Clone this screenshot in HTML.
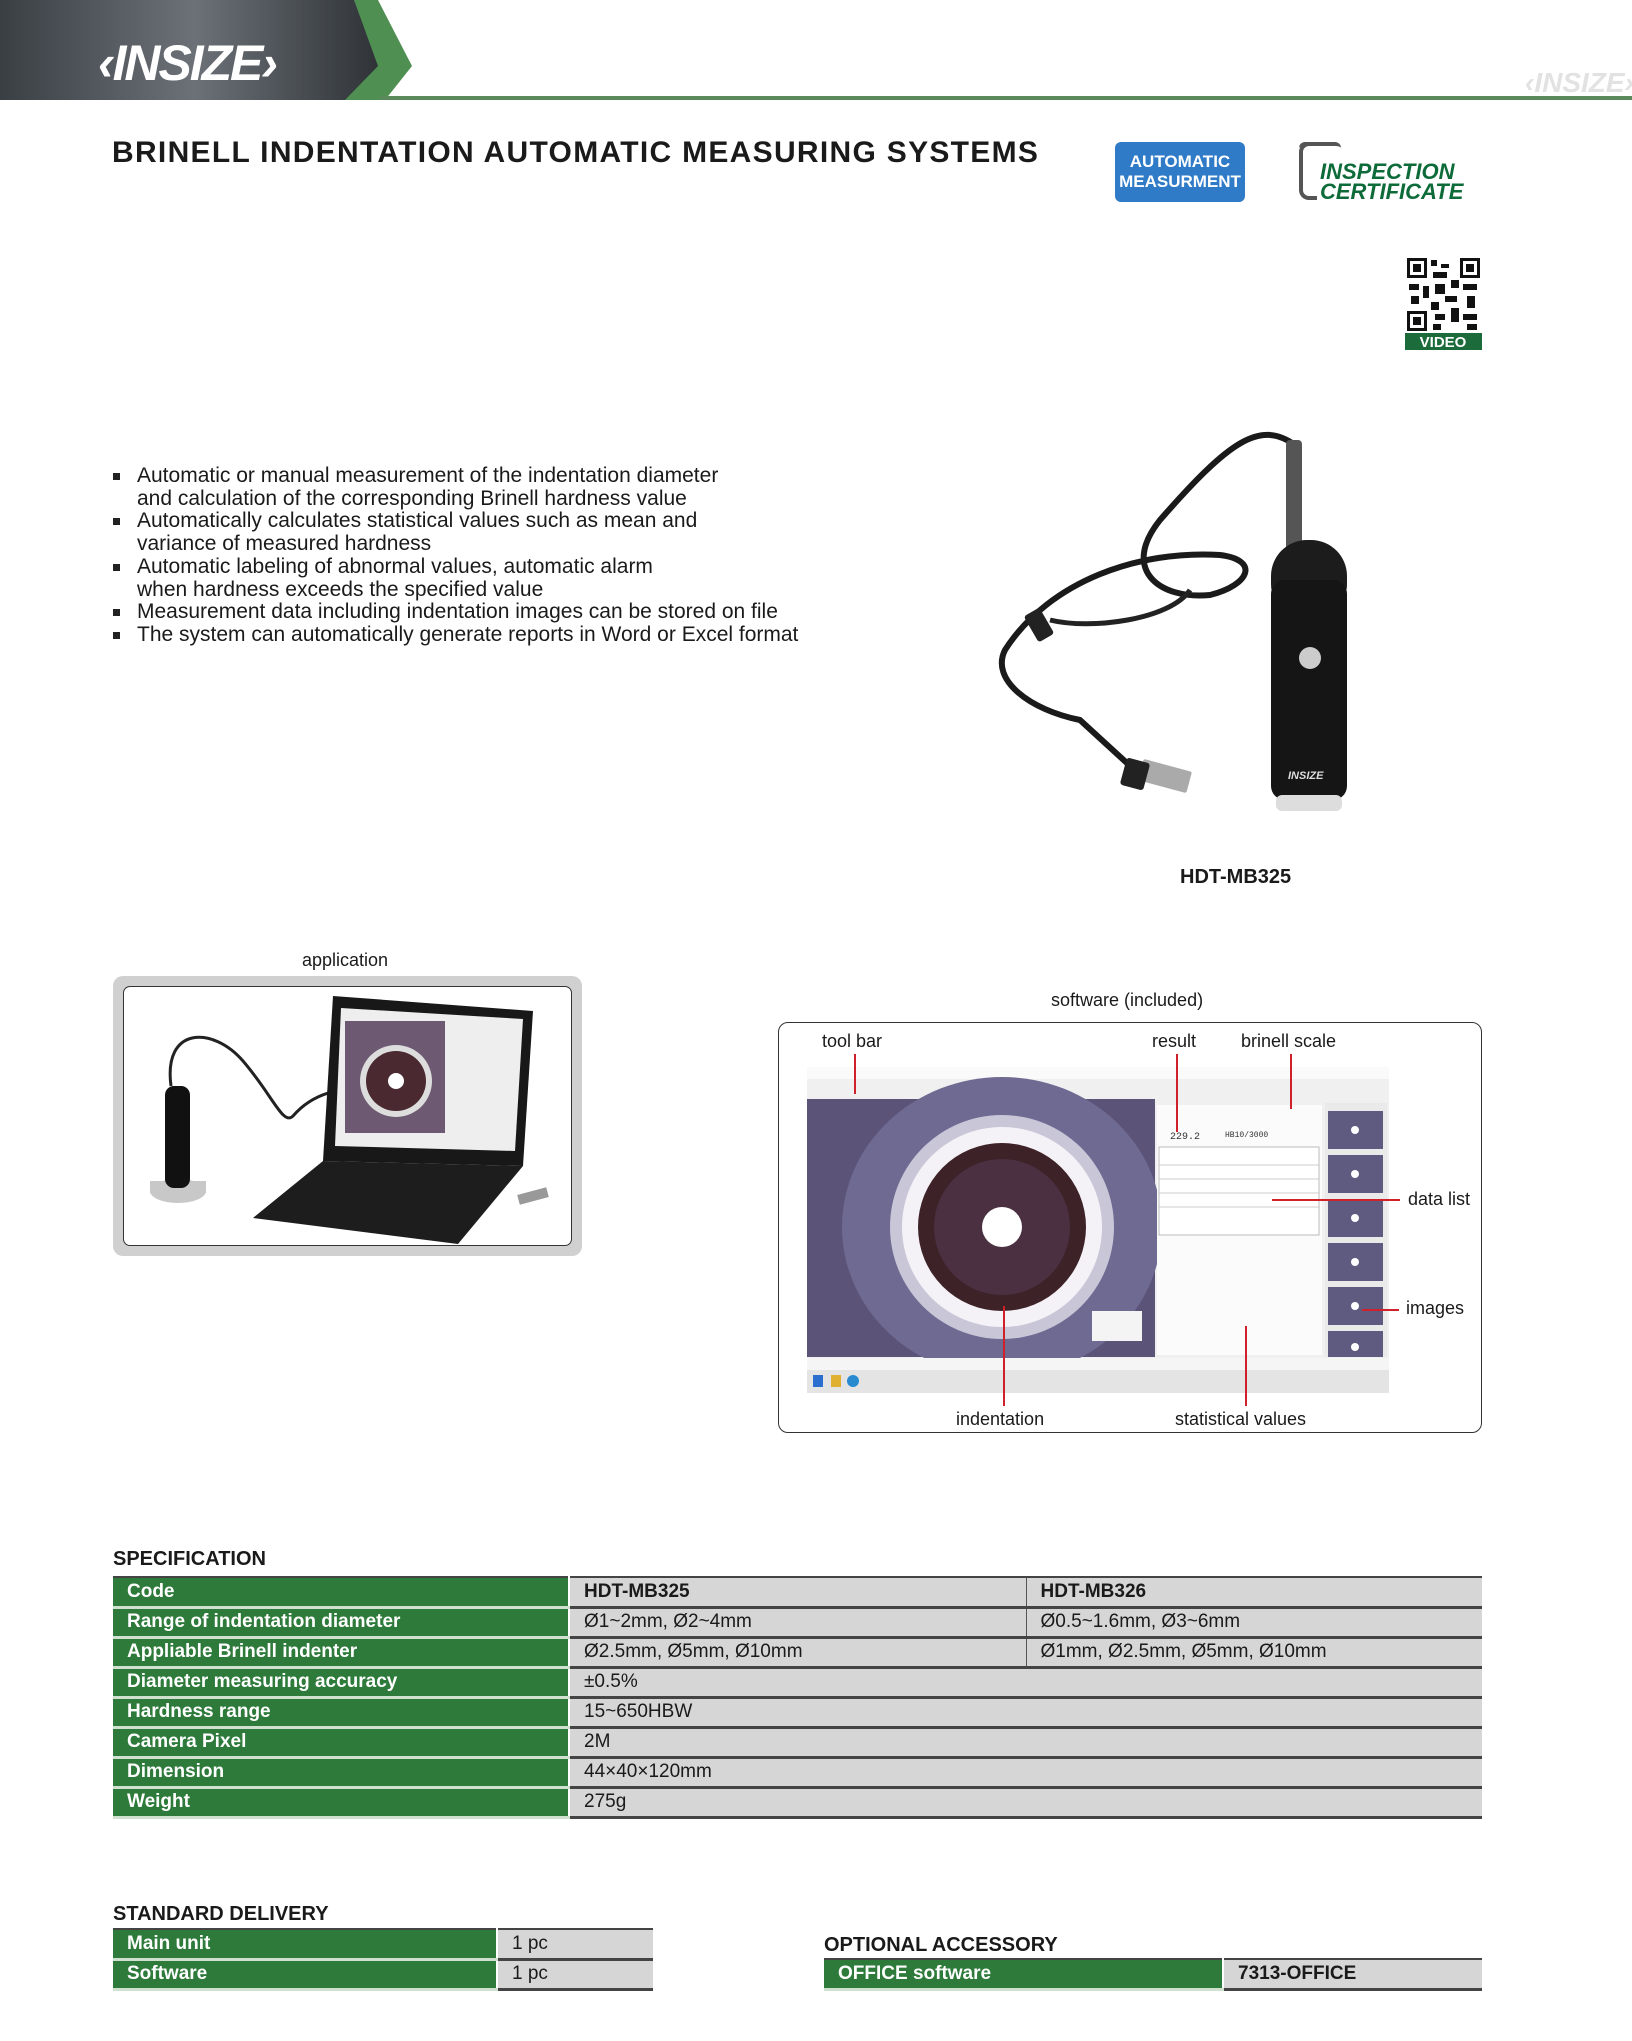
<!DOCTYPE html>
<html><head><meta charset="utf-8"><style>
*{margin:0;padding:0;box-sizing:border-box}
body{width:1632px;height:2041px;position:relative;background:#fff;font-family:"Liberation Sans",Arial,sans-serif;color:#1a1a1a;overflow:hidden}
.a{position:absolute}
.t{position:absolute;white-space:nowrap}
table{border-collapse:collapse;position:absolute;font-size:19px}
td{height:30px;padding:0 14px;border-bottom:3px solid #444;}
td.g{background:#2d7a3a;color:#fff;font-weight:bold;border-right:2px solid #fff;border-bottom:3px solid #cfe0cf}
td.v{background:#d6d6d6;border-left:1px solid #555}
.bl{position:absolute;left:113px;font-size:21px;line-height:22.7px}
.bl div{position:relative;padding-left:24px}
.bl div.s:before{content:"";position:absolute;left:0;top:8px;width:7px;height:7px;background:#222}
.lbl{position:absolute;font-size:18px;white-space:nowrap}
.r{position:absolute;background:#d0202a}
</style></head><body>
<!-- header -->
<svg class="a" style="left:0;top:0" width="1632" height="101">
<defs><linearGradient id="hg" x1="0" x2="1"><stop offset="0" stop-color="#3a3f44"/><stop offset=".5" stop-color="#6b7177"/><stop offset="1" stop-color="#2c3034"/></linearGradient></defs>
<polygon points="0,0 354,0 388,66 354,100 0,100" fill="url(#hg)"/>
<polygon points="354,0 378,0 412,66 385,100 345,100 378,66" fill="#4f8f52"/>
<rect x="380" y="96" width="1252" height="4" fill="#5a8a5c"/>
<text x="98" y="80" font-family="Liberation Sans" font-weight="bold" font-style="italic" font-size="50" fill="#fff" textLength="180">‹INSIZE›</text>
<text x="1525" y="92" font-family="Liberation Sans" font-weight="bold" font-style="italic" font-size="28" fill="#e2e2e2">‹INSIZE›</text>
</svg>
<div class="t" style="left:112px;top:136px;font-size:30px;font-weight:bold;letter-spacing:1.3px">BRINELL INDENTATION AUTOMATIC MEASURING SYSTEMS</div>
<div class="a" style="left:1115px;top:142px;width:130px;height:60px;background:#2f7bc8;border-radius:6px;color:#fff;font-weight:bold;font-size:17px;text-align:center;line-height:20px;padding-top:10px">AUTOMATIC<br>MEASURMENT</div>
<div class="a" style="left:1299px;top:142px;width:18px;height:58px;border:4px solid #555;border-right:none;border-radius:10px 0 0 10px"></div>
<div class="a" style="left:1299px;top:142px;width:42px;height:6px;border-top:4px solid #555;border-radius:10px 10px 0 0"></div>
<div class="t" style="left:1320px;top:162px;color:#0d6b3a;font-weight:bold;font-style:italic;font-size:22px;line-height:20px">INSPECTION<br>CERTIFICATE</div>
<!-- QR -->
<svg class="a" style="left:1405px;top:256px" width="77" height="94">
<rect width="77" height="77" fill="#fff"/>
<g fill="#111">
<rect x="2" y="2" width="20" height="20"/><rect x="55" y="2" width="20" height="20"/><rect x="2" y="55" width="20" height="20"/>
<rect x="26" y="4" width="6" height="6"/><rect x="36" y="8" width="8" height="4"/><rect x="28" y="16" width="14" height="6"/><rect x="46" y="24" width="8" height="8"/>
<rect x="4" y="28" width="10" height="6"/><rect x="18" y="30" width="6" height="12"/><rect x="30" y="28" width="10" height="10"/><rect x="58" y="28" width="14" height="6"/>
<rect x="6" y="40" width="8" height="8"/><rect x="40" y="40" width="12" height="6"/><rect x="62" y="40" width="8" height="12"/><rect x="26" y="46" width="8" height="8"/>
<rect x="30" y="58" width="10" height="6"/><rect x="46" y="52" width="8" height="14"/><rect x="58" y="58" width="14" height="6"/><rect x="28" y="68" width="8" height="6"/><rect x="62" y="68" width="10" height="6"/>
</g>
<g fill="#fff"><rect x="5" y="5" width="14" height="14"/><rect x="58" y="5" width="14" height="14"/><rect x="5" y="58" width="14" height="14"/></g>
<g fill="#111"><rect x="8" y="8" width="8" height="8"/><rect x="61" y="8" width="8" height="8"/><rect x="8" y="61" width="8" height="8"/></g>
<rect x="0" y="77" width="77" height="17" fill="#1c6b3a"/>
<text x="38" y="91" text-anchor="middle" font-family="Liberation Sans" font-weight="bold" font-size="15" fill="#fff">VIDEO</text>
</svg>
<!-- bullets -->
<div class="bl" style="top:465px">
<div class="s">Automatic or manual measurement of the indentation diameter</div>
<div>and calculation of the corresponding Brinell hardness value</div>
<div class="s">Automatically calculates statistical values such as mean and</div>
<div>variance of measured hardness</div>
<div class="s">Automatic labeling of abnormal values, automatic alarm</div>
<div>when hardness exceeds the specified value</div>
<div class="s">Measurement data including indentation images can be stored on file</div>
<div class="s">The system can automatically generate reports in Word or Excel format</div>
</div>
<!-- product -->
<svg class="a" style="left:990px;top:420px" width="380" height="400">
<path d="M305,25 C270,0 240,20 170,100 C130,150 170,180 220,175 C260,165 270,140 230,135 C150,130 60,160 15,230 C0,260 40,290 90,300 L150,355" stroke="#1a1a1a" stroke-width="6" fill="none"/>
<path d="M200,170 C180,200 100,210 60,200" stroke="#222" stroke-width="5" fill="none"/>
<rect x="40" y="190" width="18" height="30" rx="3" fill="#222" transform="rotate(-30 49 205)"/>
<rect x="150" y="345" width="50" height="22" rx="2" fill="#aaa" transform="rotate(15 175 356)"/>
<rect x="133" y="340" width="24" height="28" rx="3" fill="#222" transform="rotate(15 145 354)"/>
<rect x="296" y="20" width="16" height="110" rx="4" fill="#555"/>
<rect x="281" y="120" width="76" height="80" rx="36" fill="#1c1c1c"/>
<rect x="281" y="160" width="76" height="220" rx="14" fill="#151515"/>
<rect x="286" y="375" width="66" height="16" rx="6" fill="#ddd"/>
<circle cx="320" cy="238" r="11" fill="#ccc"/>
<text x="298" y="359" font-family="Liberation Sans" font-size="11" font-style="italic" font-weight="bold" fill="#ddd">INSIZE</text>
</svg>
<div class="t" style="left:1180px;top:866px;font-size:20px;font-weight:bold">HDT-MB325</div>
<!-- application -->
<div class="t" style="left:302px;top:950px;font-size:18px">application</div>
<div class="a" style="left:113px;top:976px;width:469px;height:280px;background:#d0d0d0;border-radius:10px"></div>
<div class="a" style="left:123px;top:986px;width:449px;height:260px;background:#fff;border:1.5px solid #333;border-radius:7px"></div>
<svg class="a" style="left:123px;top:986px" width="449" height="260">
<path d="M48,100 C40,40 90,40 120,75 C150,110 160,140 170,130 C200,95 240,105 290,95" stroke="#222" stroke-width="3" fill="none"/>
<ellipse cx="55" cy="205" rx="28" ry="12" fill="#c8c8c8"/>
<rect x="27" y="195" width="56" height="12" fill="#c8c8c8"/>
<rect x="42" y="100" width="25" height="102" rx="9" fill="#111"/>
<polygon points="210,10 410,25 400,180 200,175" fill="#181818"/>
<polygon points="218,22 400,33 392,165 212,160" fill="#eee"/>
<rect x="222" y="35" width="100" height="112" fill="#6d5a72"/>
<circle cx="273" cy="95" r="36" fill="#ddd"/><circle cx="273" cy="95" r="30" fill="#4a2a30"/><circle cx="273" cy="95" r="8" fill="#fff"/>
<polygon points="200,175 400,180 335,258 130,232" fill="#1d1d1d"/>
<rect x="395" y="205" width="30" height="10" fill="#999" transform="rotate(-15 410 210)"/>
</svg>
<!-- software -->
<div class="t" style="left:1051px;top:990px;font-size:18px">software (included)</div>
<div class="a" style="left:778px;top:1022px;width:704px;height:411px;border:1.5px solid #333;border-radius:10px"></div>
<svg class="a" style="left:807px;top:1067px" width="582" height="326">
<rect width="582" height="326" fill="#f0f0f0"/>
<rect y="0" width="582" height="12" fill="#fafafa"/>
<rect x="0" y="32" width="348" height="258" fill="#5c5478"/>
<ellipse cx="195" cy="160" rx="160" ry="150" fill="#6f6a92"/>
<circle cx="195" cy="160" r="112" fill="#c9c6d8"/>
<circle cx="195" cy="160" r="100" fill="#f4f2f6"/>
<circle cx="195" cy="160" r="84" fill="#3d2228"/>
<circle cx="195" cy="160" r="68" fill="#4a3040"/>
<circle cx="195" cy="160" r="20" fill="#fff"/>
<rect x="285" y="244" width="50" height="30" fill="#f4f4f4"/>
<rect x="350" y="38" width="165" height="250" fill="#fbfbfb"/>
<rect x="352" y="80" width="160" height="88" fill="#fff" stroke="#bbb"/>
<g stroke="#ccc"><line x1="352" y1="98" x2="512" y2="98"/><line x1="352" y1="112" x2="512" y2="112"/><line x1="352" y1="126" x2="512" y2="126"/><line x1="352" y1="140" x2="512" y2="140"/></g>
<text x="363" y="72" font-family="Liberation Mono" font-size="10" fill="#333">229.2</text>
<text x="418" y="70" font-family="Liberation Mono" font-size="8" fill="#333">HB10/3000</text>
<g fill="#555" transform="translate(518,36)">
<rect width="62" height="254" fill="#eaeaea"/>
<g fill="#5e5a80"><rect x="3" y="8" width="55" height="38"/><rect x="3" y="52" width="55" height="38"/><rect x="3" y="96" width="55" height="38"/><rect x="3" y="140" width="55" height="38"/><rect x="3" y="184" width="55" height="38"/><rect x="3" y="228" width="55" height="26"/></g>
<g fill="#fff"><circle cx="30" cy="27" r="4"/><circle cx="30" cy="71" r="4"/><circle cx="30" cy="115" r="4"/><circle cx="30" cy="159" r="4"/><circle cx="30" cy="203" r="4"/><circle cx="30" cy="244" r="4"/></g>
</g>
<rect y="291" width="582" height="12" fill="#f5f5f5"/>
<rect y="303" width="582" height="23" fill="#e4e4e4"/>
<rect x="6" y="308" width="10" height="12" fill="#2a6ed0"/><rect x="24" y="308" width="10" height="12" fill="#e0b030"/><circle cx="46" cy="314" r="6" fill="#2a8ad0"/>
</svg>
<div class="lbl" style="left:822px;top:1031px">tool bar</div>
<div class="lbl" style="left:1152px;top:1031px">result</div>
<div class="lbl" style="left:1241px;top:1031px">brinell scale</div>
<div class="lbl" style="left:1408px;top:1189px">data list</div>
<div class="lbl" style="left:1406px;top:1298px">images</div>
<div class="lbl" style="left:956px;top:1409px">indentation</div>
<div class="lbl" style="left:1175px;top:1409px">statistical values</div>
<div class="r" style="left:854px;top:1054px;width:1.5px;height:40px"></div>
<div class="r" style="left:1176px;top:1054px;width:1.5px;height:78px"></div>
<div class="r" style="left:1290px;top:1054px;width:1.5px;height:55px"></div>
<div class="r" style="left:1272px;top:1199px;width:128px;height:1.5px"></div>
<div class="r" style="left:1362px;top:1309px;width:37px;height:1.5px"></div>
<div class="r" style="left:1003px;top:1306px;width:1.5px;height:100px"></div>
<div class="r" style="left:1245px;top:1326px;width:1.5px;height:80px"></div>
<!-- spec -->
<div class="t" style="left:113px;top:1548px;font-size:20px;font-weight:bold">SPECIFICATION</div>
<table style="left:113px;top:1576px;width:1369px;border-top:2px solid #444">
<tr><td class="g" style="width:456px">Code</td><td class="v" style="width:457px;font-weight:bold">HDT-MB325</td><td class="v" style="font-weight:bold">HDT-MB326</td></tr>
<tr><td class="g">Range of indentation diameter</td><td class="v">Ø1~2mm, Ø2~4mm</td><td class="v">Ø0.5~1.6mm, Ø3~6mm</td></tr>
<tr><td class="g">Appliable Brinell indenter</td><td class="v">Ø2.5mm, Ø5mm, Ø10mm</td><td class="v">Ø1mm, Ø2.5mm, Ø5mm, Ø10mm</td></tr>
<tr><td class="g">Diameter measuring accuracy</td><td class="v" colspan="2">±0.5%</td></tr>
<tr><td class="g">Hardness range</td><td class="v" colspan="2">15~650HBW</td></tr>
<tr><td class="g">Camera Pixel</td><td class="v" colspan="2">2M</td></tr>
<tr><td class="g">Dimension</td><td class="v" colspan="2">44×40×120mm</td></tr>
<tr><td class="g">Weight</td><td class="v" colspan="2">275g</td></tr>
</table>
<div class="t" style="left:113px;top:1903px;font-size:20px;font-weight:bold">STANDARD DELIVERY</div>
<table style="left:113px;top:1928px;width:540px;border-top:2px solid #444">
<tr><td class="g" style="width:384px">Main unit</td><td class="v">1 pc</td></tr>
<tr><td class="g">Software</td><td class="v">1 pc</td></tr>
</table>
<div class="t" style="left:824px;top:1934px;font-size:20px;font-weight:bold">OPTIONAL ACCESSORY</div>
<table style="left:824px;top:1958px;width:658px;border-top:2px solid #444">
<tr><td class="g" style="width:399px">OFFICE software</td><td class="v" style="font-weight:bold">7313-OFFICE</td></tr>
</table>
</body></html>
